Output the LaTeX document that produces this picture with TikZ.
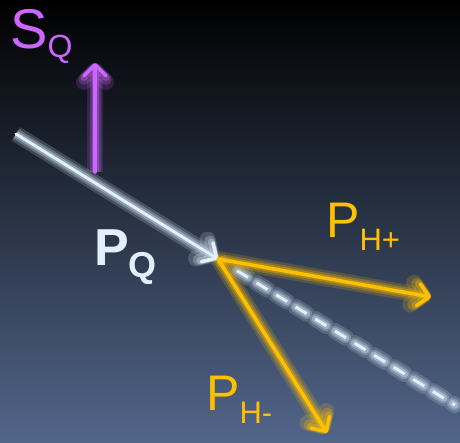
\documentclass[tikz,border=0pt]{standalone}
\usepackage{fontspec}
\setmainfont{Liberation Sans}
\usepackage{tikz}
\usetikzlibrary{arrows.meta, positioning, calc}
\definecolor{bgtop}{RGB}{0, 0, 0}
\definecolor{bgmid}{RGB}{26, 33, 46}
\definecolor{bgbot}{RGB}{82, 102, 138}
\definecolor{spinpurple}{RGB}{204, 102, 255}
\definecolor{beamwhite}{RGB}{225, 240, 255}
\definecolor{hadgold}{RGB}{255, 192, 0}

\begin{document}
\begin{tikzpicture}[
  x=1pt, y=-1pt,
  glow/.style={line cap=round, line join=round,
               preaction={draw=#1, line width=16pt, opacity=0.18,
                          -{Straight Barb[length=11pt, width=22pt, line width=16pt, round]}},
               preaction={draw=#1, line width=11pt, opacity=0.25,
                          -{Straight Barb[length=11pt, width=22pt, line width=11pt, round]}},
               preaction={draw=#1, line width=7pt, opacity=0.35,
                          -{Straight Barb[length=11pt, width=22pt, line width=7pt, round]}}},
  dglow/.style={
               preaction={draw=#1, line width=16pt, opacity=0.18, line cap=round, dash pattern=on 13pt off 10pt},
               preaction={draw=#1, line width=11pt, opacity=0.25, line cap=round, dash pattern=on 13pt off 10pt},
               preaction={draw=#1, line width=7pt, opacity=0.35, line cap=round, dash pattern=on 13pt off 10pt}},
  vec/.style={line width=3.5pt, line cap=round, line join=round,
              -{Straight Barb[length=11pt, width=22pt, line width=3.5pt, round]}},
  lab/.style={inner sep=0pt, anchor=base west}
]
\useasboundingbox (0,0) rectangle (460,442);
\shade[top color=bgtop, middle color=bgmid, bottom color=bgbot] (0,0) rectangle (460,442);

% points
\coordinate (Qin) at (16,134);
\coordinate (V) at (218,259);
\coordinate (Hp) at (431,297);
\coordinate (Hm) at (327,433);
\coordinate (Dend) at (455,405);
\coordinate (Sbot) at (95,172);
\coordinate (Stop) at (95,63);

% continuation of the beam
\draw[dglow=beamwhite, beamwhite, line width=3pt, dash pattern=on 13pt off 10pt, line cap=butt]
  ($(V)!0.08!(Dend)$) -- (Dend);

% vectors
\draw[glow=spinpurple, vec, spinpurple] (Sbot) -- (Stop);
\draw[glow=beamwhite, vec, beamwhite, line width=3pt] (Qin) -- (V);
\draw[glow=hadgold, vec, hadgold] (V) -- (Hp);
\draw[glow=hadgold, vec, hadgold] (V) -- (Hm);

% labels
\node[lab, text=spinpurple] (SQ) at (10,48)
  {\fontsize{56}{56}\selectfont S\raisebox{-9pt}{\fontsize{32}{32}\selectfont Q}};
\node[lab, text=beamwhite] (PQ) at (94,265)
  {\fontsize{52}{52}\selectfont\bfseries P\raisebox{-12pt}{\fontsize{36}{36}\selectfont Q}};
\node[lab, text=hadgold] (PHp) at (326,237)
  {\fontsize{50}{50}\selectfont P\raisebox{-13pt}{\fontsize{31}{31}\selectfont H+}};
\node[lab, text=hadgold] (PHm) at (206,410)
  {\fontsize{50}{50}\selectfont P\raisebox{-13pt}{\fontsize{31}{31}\selectfont H-}};
\end{tikzpicture}
\end{document}
